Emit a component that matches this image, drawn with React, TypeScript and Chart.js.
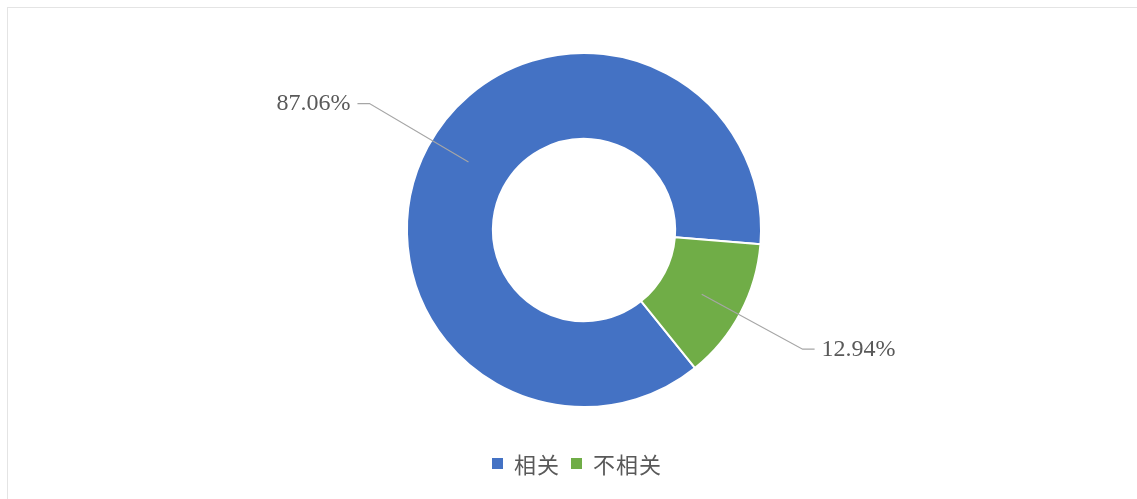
import React, { useEffect, useRef } from "react";
import { Chart, registerables } from "chart.js";

Chart.register(...registerables);

const categories = ["相关", "不相关"];
const values = [87.06, 12.94];
const colors = ["#4472C4", "#70AD47"];

const TEXT_COLOR = "#595959";
const FONT = "'Liberation Serif', 'DejaVu Serif', 'Noto Sans CJK SC', serif";
const LEADER_ANGLE_NUDGE = [2.6, 0.7]; // degrees

const leaderPlugin = {
  id: "leaderLabels",
  afterDatasetsDraw(chart: any) {
    const ctx = chart.ctx;
    const meta = chart.getDatasetMeta(0);
    const data = chart.data.datasets[0].data as number[];
    ctx.save();
    meta.data.forEach((arc: any, i: number) => {
      const { x, y, startAngle, endAngle, innerRadius, outerRadius } = arc.getProps(
        ["x", "y", "startAngle", "endAngle", "innerRadius", "outerRadius"],
        true
      );
      const mid = (startAngle + endAngle) / 2 + (LEADER_ANGLE_NUDGE[i] * Math.PI) / 180;
      const cos = Math.cos(mid);
      const sin = Math.sin(mid);
      const r1 = (innerRadius + outerRadius) / 2;
      const r2 = outerRadius + 72;
      const p1x = x + r1 * cos;
      const p1y = y + r1 * sin;
      const p2x = x + r2 * cos;
      const p2y = y + r2 * sin;
      const dir = cos >= 0 ? 1 : -1;
      const p3x = p2x + dir * 12;
      ctx.strokeStyle = "#a6a6a6";
      ctx.lineWidth = 1.2;
      ctx.beginPath();
      ctx.moveTo(p1x, p1y);
      ctx.lineTo(p2x, p2y);
      ctx.lineTo(p3x, p2y);
      ctx.stroke();
      ctx.fillStyle = TEXT_COLOR;
      ctx.font = `24px ${FONT}`;
      ctx.textBaseline = "middle";
      ctx.textAlign = dir > 0 ? "left" : "right";
      ctx.fillText(data[i].toFixed(2) + "%", p3x + dir * 7, p2y);
    });
    ctx.restore();
  },
};

export default function App() {
  const canvasRef = useRef<HTMLCanvasElement | null>(null);

  useEffect(() => {
    if (!canvasRef.current) return;
    const chart = new Chart(canvasRef.current, {
      type: "doughnut",
      data: {
        labels: categories,
        datasets: [
          {
            data: values,
            backgroundColor: colors,
            borderColor: "#ffffff",
            borderWidth: 2,
            hoverOffset: 0,
          },
        ],
      },
      options: {
        animation: false,
        responsive: false,
        maintainAspectRatio: false,
        rotation: 141.2,
        cutout: "51.5%",
        radius: 177,
        layout: { padding: { left: 31, right: 0, top: 0, bottom: 39 } },
        plugins: {
          legend: { display: false },
          tooltip: { enabled: false },
        },
      },
      plugins: [leaderPlugin],
    });
    return () => chart.destroy();
  }, []);

  return (
    <div
      style={{
        position: "absolute",
        left: 0,
        top: 0,
        width: 1137,
        height: 499,
        background: "#ffffff",
        overflow: "hidden",
      }}
    >
      <div
        style={{
          position: "absolute",
          left: 7,
          top: 7,
          width: 1137,
          height: 499,
          borderTop: "1px solid #e4e4e4",
          borderLeft: "1px solid #e4e4e4",
        }}
      />
      <canvas
        ref={canvasRef}
        width={1137}
        height={499}
        style={{ position: "absolute", left: 0, top: 0, width: 1137, height: 499 }}
      />
      <div
        style={{
          position: "absolute",
          left: 492,
          top: 449,
          height: 28,
          display: "flex",
          alignItems: "center",
          fontFamily: FONT,
          fontSize: 22,
          letterSpacing: 1,
          color: TEXT_COLOR,
          whiteSpace: "nowrap",
        }}
      >
        {categories.map((c, i) => (
          <div key={c} style={{ display: "flex", alignItems: "center", marginRight: 11 }}>
            <span
              style={{
                display: "inline-block",
                width: 11,
                height: 11,
                background: colors[i],
                marginRight: 11,
              }}
            />
            <span>{c}</span>
          </div>
        ))}
      </div>
    </div>
  );
}
